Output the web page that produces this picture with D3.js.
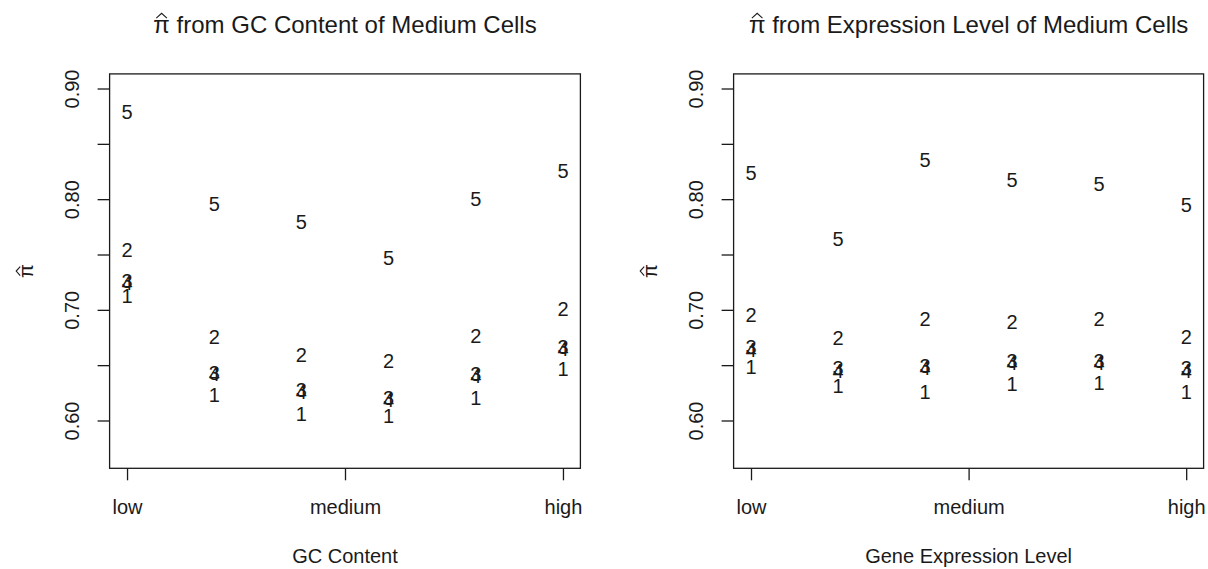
<!DOCTYPE html>
<html>
<head>
<meta charset="utf-8">
<script src="https://cdn.jsdelivr.net/npm/d3@7"></script>
<style>
  html, body { margin: 0; padding: 0; background: #fff; }
  svg { display: block; font-family: "Liberation Sans", Arial, Helvetica, sans-serif; }
  .keep-space { white-space: pre; }
</style>
</head>
<body>
<svg id="chart" width="1208" height="569"></svg>
<script>
// Bin positions along the x axis (six bins from low to high)
const binPositions = [1, 2, 3, 4, 5, 6];
const xTickValues = [1, 3.5, 6];
const xTickLabels = ["low", "medium", "high"];
const yTickValues = [0.60, 0.65, 0.70, 0.75, 0.80, 0.85, 0.90];
const yTickLabels = ["0.60", "", "0.70", "", "0.80", "", "0.90"];
const yLimits = [0.57, 0.90];
const seriesLabels = ["1", "2", "3", "4", "5"];

// pi-hat estimates by GC content bin
const gcSeries1 = [0.713, 0.623, 0.6065, 0.6043, 0.6206, 0.6463];
const gcSeries2 = [0.754, 0.6752, 0.6592, 0.6538, 0.6766, 0.7005];
const gcSeries3 = [0.726, 0.6434, 0.6276, 0.6208, 0.6420, 0.6664];
const gcSeries4 = [0.724, 0.6420, 0.6258, 0.6190, 0.6402, 0.6646];
const gcSeries5 = [0.879, 0.7956, 0.7794, 0.7471, 0.8001, 0.8254];

// pi-hat estimates by gene expression bin
const exSeries1 = [0.6481, 0.6312, 0.6260, 0.6336, 0.6345, 0.6260];
const exSeries2 = [0.6953, 0.6743, 0.6923, 0.6893, 0.6923, 0.6757];
const exSeries3 = [0.6662, 0.6473, 0.6496, 0.6541, 0.6541, 0.6473];
const exSeries4 = [0.6642, 0.6453, 0.6476, 0.6521, 0.6521, 0.6453];
const exSeries5 = [0.8234, 0.7646, 0.8354, 0.8173, 0.8143, 0.7947];

const panels = [
  { left: 109.6, right: 580.4, title: " from GC Content of Medium Cells", xlab: "GC Content",
    series: [gcSeries1, gcSeries2, gcSeries3, gcSeries4, gcSeries5] },
  { left: 733.6, right: 1203.6, title: " from Expression Level of Medium Cells", xlab: "Gene Expression Level",
    series: [exSeries1, exSeries2, exSeries3, exSeries4, exSeries5] }
];

const svg = d3.select("#chart");
const plotTop = 73.9, plotBottom = 468.3;
const ink = "#1a1a1a";
const baseSize = 20;

// R-style 4% padding around the data limits
function padded(lo, hi) { const e = (hi - lo) * 0.04; return [lo - e, hi + e]; }

// A pi with a hat drawn above it, as plotmath does
function piHat(g, size) {
  const t = g.append("text").attr("font-size", size).attr("fill", ink).text("\u03c0");
  const w = t.node().getComputedTextLength();
  const hw = w * 0.32, hy = -size * 0.62, hh = size * 0.2;
  g.append("path")
    .attr("d", d3.line()([[w / 2 - hw, hy], [w / 2, hy - hh], [w / 2 + hw, hy]]))
    .attr("fill", "none").attr("stroke", ink).attr("stroke-width", 1.1);
  return w;
}

panels.forEach(p => {
  const x = d3.scaleLinear().domain(padded(binPositions[0], binPositions[binPositions.length - 1])).range([p.left, p.right]);
  const y = d3.scaleLinear().domain(padded(yLimits[0], yLimits[1])).range([plotBottom, plotTop]);
  const g = svg.append("g");

  // plot box
  g.append("rect").attr("x", p.left).attr("y", plotTop)
    .attr("width", p.right - p.left).attr("height", plotBottom - plotTop)
    .attr("fill", "none").attr("stroke", ink).attr("stroke-width", 1.3);

  // y axis
  const ya = g.append("g").attr("transform", `translate(${p.left},0)`)
    .call(d3.axisLeft(y).tickValues(yTickValues).tickSize(12).tickFormat((d, i) => yTickLabels[i]));
  ya.select(".domain").remove();
  ya.selectAll("line").attr("stroke", ink).attr("stroke-width", 1.3);
  ya.selectAll("text")
    .attr("x", null).attr("dy", null)
    .attr("transform", "translate(-30.5,0) rotate(-90)")
    .attr("text-anchor", "middle")
    .attr("font-size", baseSize).attr("font-family", null).attr("fill", ink);

  // x axis
  const xa = g.append("g").attr("transform", `translate(0,${plotBottom})`)
    .call(d3.axisBottom(x).tickValues(xTickValues).tickSize(12).tickFormat((d, i) => xTickLabels[i]));
  xa.select(".domain").remove();
  xa.selectAll("line").attr("stroke", ink).attr("stroke-width", 1.3);
  xa.selectAll("text").attr("y", 46).attr("dy", null)
    .attr("font-size", baseSize).attr("font-family", null).attr("fill", ink);

  // series digits
  p.series.forEach((vals, si) => {
    g.append("g").selectAll("text").data(vals).join("text")
      .attr("x", (d, i) => x(binPositions[i]))
      .attr("y", d => y(d))
      .attr("dy", "0.36em")
      .attr("text-anchor", "middle")
      .attr("font-size", baseSize).attr("fill", ink)
      .text(seriesLabels[si]);
  });

  // x label
  g.append("text").attr("x", (p.left + p.right) / 2).attr("y", 562.5)
    .attr("text-anchor", "middle").attr("font-size", baseSize).attr("fill", ink).text(p.xlab);

  // y label: rotated pi-hat
  const yl = g.append("g");
  const wy = piHat(yl, baseSize);
  yl.attr("transform", `translate(${p.left - 77},${(plotTop + plotBottom) / 2 + wy / 2}) rotate(-90)`);

  // title
  const tg = g.append("g");
  const tsize = baseSize * 1.2;
  const wpi = piHat(tg, tsize);
  const rest = tg.append("text").attr("class", "keep-space").attr("x", wpi)
    .attr("font-size", tsize).attr("fill", ink).text(p.title);
  const total = wpi + rest.node().getComputedTextLength();
  tg.attr("transform", `translate(${(p.left + p.right) / 2 - total / 2},33)`);
});
</script>
</body>
</html>
